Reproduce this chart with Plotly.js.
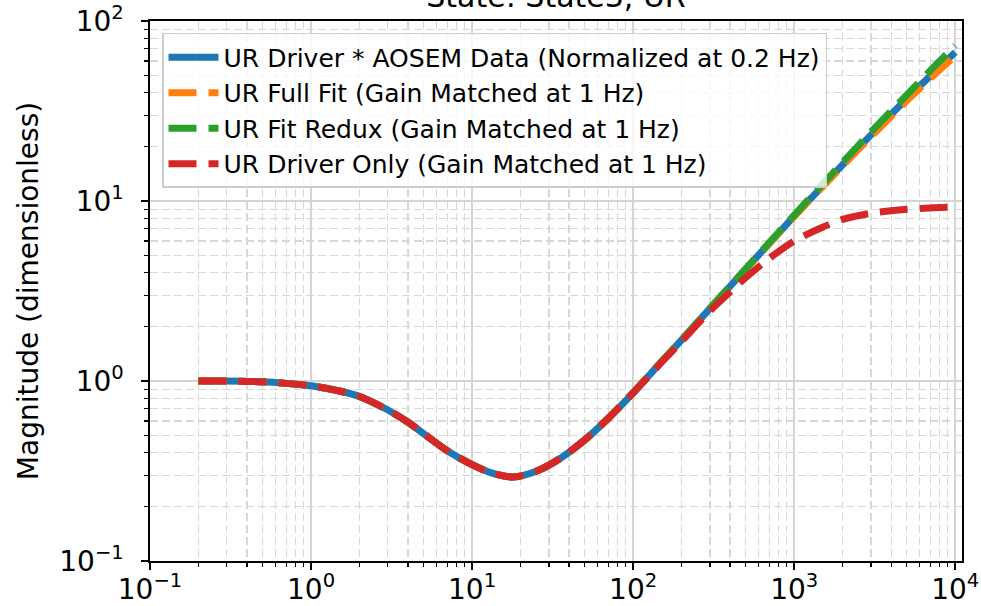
<!DOCTYPE html>
<html>
<head>
<meta charset="utf-8">
<script src="https://cdn.plot.ly/plotly-3.0.1.min.js"></script>
<style>
html,body{margin:0;padding:0;background:#fff;}
#chart{width:981px;height:606px;}
</style>
</head>
<body>
<div id="chart"></div>
<script>
// Frequencies (Hz)
const freq = [0.2, 0.3, 0.5, 0.7, 1, 1.5, 2, 3, 4, 5, 7, 10, 13, 18, 25, 35, 50, 70, 100, 150, 200, 300, 400, 500, 700, 1000, 1500, 2000, 3000, 5000, 7000, 10000];

// Series values (dimensionless magnitude)
const aosemData = [1.00, 1.00, 0.99, 0.97, 0.94, 0.88, 0.82, 0.69, 0.59, 0.51, 0.41, 0.343, 0.31, 0.293, 0.315, 0.37, 0.47, 0.62, 0.86, 1.28, 1.69, 2.53, 3.36, 4.18, 5.82, 8.25, 12.1, 15.9, 23.3, 37, 49.5, 67];
const fullFit   = [1.00, 1.00, 0.99, 0.97, 0.94, 0.88, 0.82, 0.69, 0.59, 0.51, 0.41, 0.343, 0.31, 0.293, 0.315, 0.37, 0.47, 0.62, 0.86, 1.28, 1.69, 2.53, 3.36, 4.18, 5.80, 8.2, 12.0, 15.7, 22.8, 36, 48, 64];
const fitRedux  = [1.00, 1.00, 0.99, 0.97, 0.94, 0.88, 0.82, 0.69, 0.59, 0.51, 0.41, 0.343, 0.31, 0.293, 0.315, 0.37, 0.47, 0.62, 0.86, 1.28, 1.69, 2.53, 3.37, 4.2, 5.87, 8.35, 12.4, 16.4, 24.2, 38.8, 53, 73];
const driverOnly= [1.00, 1.00, 0.99, 0.97, 0.94, 0.88, 0.82, 0.69, 0.59, 0.51, 0.41, 0.343, 0.31, 0.293, 0.315, 0.37, 0.47, 0.62, 0.86, 1.27, 1.66, 2.45, 3.12, 3.75, 4.8, 6.0, 7.15, 7.9, 8.55, 9.0, 9.15, 9.25];

const seriesNames = [
  "UR Driver * AOSEM Data (Normalized at 0.2 Hz)",
  "UR Full Fit (Gain Matched at 1 Hz)",
  "UR Fit Redux (Gain Matched at 1 Hz)",
  "UR Driver Only (Gain Matched at 1 Hz)"
];

// Tick labels
const xTickVals = [0.1, 1, 10, 100, 1000, 10000];
const xTickText = ["10<sup>−1</sup>", "10<sup>0</sup>", "10<sup>1</sup>", "10<sup>2</sup>", "10<sup>3</sup>", "10<sup>4</sup>"];
const yTickVals = [0.1, 1, 10, 100];
const yTickText = ["10<sup>−1</sup>", "10<sup>0</sup>", "10<sup>1</sup>", "10<sup>2</sup>"];

const colors = ["#1f77b4", "#ff7f0e", "#2ca02c", "#d62728"];
const dashes = ["solid", "28px,12px", "28px,12px", "28px,12px"];
const values = [aosemData, fullFit, fitRedux, driverOnly];

const traces = values.map((v, i) => ({
  x: freq, y: v, type: "scatter", mode: "lines", name: seriesNames[i],
  line: {color: colors[i], width: 7, dash: dashes[i], shape: "spline", smoothing: 0.8}
}));

const axisCommon = {
  type: "log",
  showline: true, linecolor: "#000", linewidth: 1.6, mirror: true,
  ticks: "outside", ticklen: 7, tickwidth: 1.6, tickcolor: "#000",
  showgrid: true, gridcolor: "#d4d4d4", gridwidth: 1.5,
  zeroline: false,
  tickmode: "array",
  tickfont: {family: "DejaVu Sans", size: 28, color: "#000"},
  minor: {ticks: "outside", ticklen: 4, tickwidth: 1.2, tickcolor: "#000",
          showgrid: true, gridcolor: "#d8d8d8", gridwidth: 1.2, griddash: "8px,4px", dtick: "D1"}
};

const layout = {
  width: 981, height: 606,
  margin: {l: 150, r: 19, t: 21, b: 45},
  paper_bgcolor: "#fff", plot_bgcolor: "#fff",
  font: {family: "DejaVu Sans", color: "#000"},
  title: {text: "State: State3, UR", font: {family: "DejaVu Sans", size: 30, color: "#000"},
          x: 0.5, xref: "paper", xanchor: "center", y: 1, yref: "paper", yanchor: "bottom", pad: {b: 14}},
  xaxis: Object.assign({}, axisCommon, {range: [-1, 4.042], tickvals: xTickVals, ticktext: xTickText, ticklabelstandoff: -4}),
  yaxis: Object.assign({}, axisCommon, {range: [-1, 2], tickvals: yTickVals, ticktext: yTickText, ticklabelstandoff: 12,
          title: {text: "Magnitude (dimensionless)", font: {family: "DejaVu Sans", size: 28, color: "#000"}, standoff: 12}}),
  showlegend: true,
  legend: {x: 0.0148, y: 0.978, xanchor: "left", yanchor: "top",
           bgcolor: "rgba(255,255,255,0.8)", bordercolor: "#cccccc", borderwidth: 1.5,
           font: {family: "DejaVu Sans", size: 25, color: "#000"}, itemwidth: 50}
};

Plotly.newPlot("chart", traces, layout, {staticPlot: true, displayModeBar: false});
</script>
</body>
</html>
